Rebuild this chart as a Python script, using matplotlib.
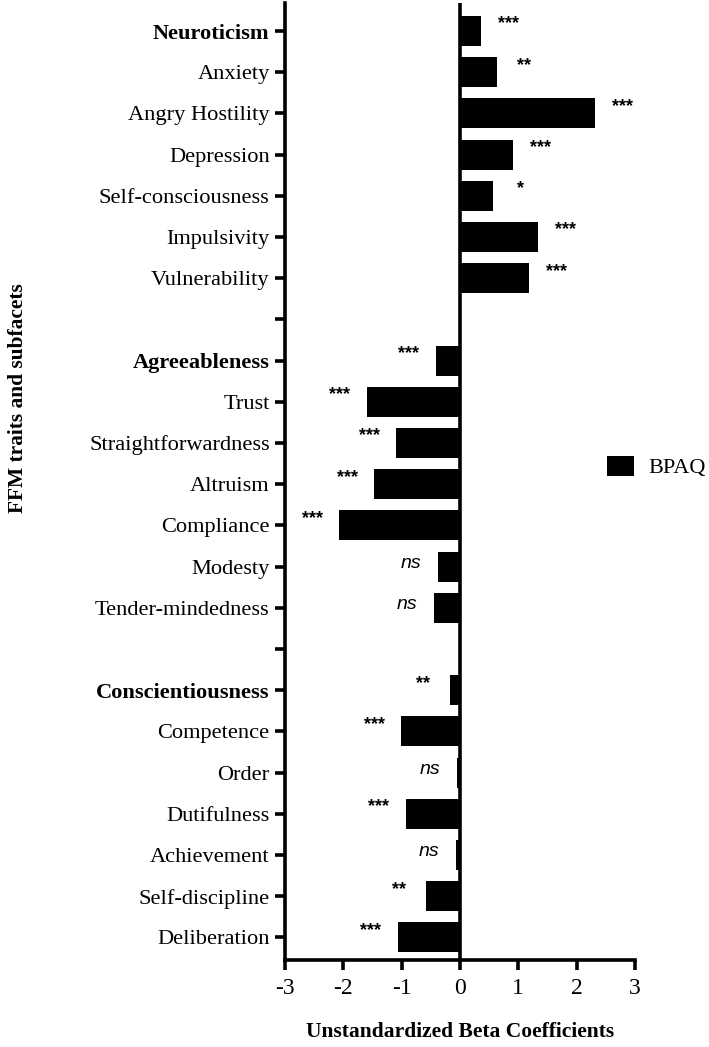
import matplotlib
matplotlib.use("Agg")
import matplotlib.pyplot as plt
import numpy as np

categories = ["Neuroticism", "Anxiety", "Angry Hostility", "Depression", "Self-consciousness",
              "Impulsivity", "Vulnerability", "",
              "Agreeableness", "Trust", "Straightforwardness", "Altruism", "Compliance",
              "Modesty", "Tender-mindedness", "",
              "Conscientiousness", "Competence", "Order", "Dutifulness", "Achievement",
              "Self-discipline", "Deliberation"]
values = [0.36, 0.64, 2.32, 0.91, 0.57, 1.34, 1.19, None,
          -0.42, -1.60, -1.09, -1.47, -2.07, -0.37, -0.45, None,
          -0.17, -1.01, -0.05, -0.93, -0.07, -0.59, -1.07]
signif = ["***", "**", "***", "***", "*", "***", "***", "",
          "***", "***", "***", "***", "***", "ns", "ns", "",
          "**", "***", "ns", "***", "ns", "**", "***"]
bold_labels = {"Neuroticism", "Agreeableness", "Conscientiousness"}
x_ticks = [-3, -2, -1, 0, 1, 2, 3]

serif = "Liberation Serif"
sans = "Liberation Sans"

fig = plt.figure(figsize=(7.09, 10.47), dpi=100)
ax = fig.add_axes([285/709, 87/1047, 350/709, 957/1047])

ypos = np.arange(len(categories))
bar_y = [y for y, v in zip(ypos, values) if v is not None]
bar_v = [v for v in values if v is not None]
bars = ax.barh(bar_y, bar_v, height=0.73, color="black", label="BPAQ")

ax.set_xlim(-3, 3)
ax.set_ylim(22.55, -0.68)
ax.set_xticks(x_ticks)
ax.set_xticklabels([str(t) for t in x_ticks], fontfamily=serif, fontsize=17)
ax.set_yticks(ypos)
ax.set_yticklabels(categories, fontfamily=serif, fontsize=16.1)
for lab in ax.get_yticklabels():
    if lab.get_text() in bold_labels:
        lab.set_fontweight("bold")

ax.axvline(0, color="black", lw=2.6)
for s in ["top", "right"]:
    ax.spines[s].set_visible(False)
for s in ["left", "bottom"]:
    ax.spines[s].set_linewidth(2.6)
ax.tick_params(axis="both", width=2.6, length=7, direction="out", colors="black")
ax.tick_params(axis="y", pad=4)
ax.tick_params(axis="x", pad=6)

# significance labels
for y, v, s in zip(ypos, values, signif):
    if v is None:
        continue
    off = 27 if v >= 0 else -27
    if s == "ns":
        ax.annotate(s, xy=(v, y), xytext=(off, 3), textcoords="offset pixels",
                    ha="center", va="center", fontfamily=sans, fontstyle="italic", fontsize=14)
    else:
        ax.annotate(s, xy=(v, y), xytext=(off, 7), textcoords="offset pixels",
                    ha="center", va="center", fontfamily=sans, fontweight="bold", fontsize=13)

fig.text(18/709, 1 - 398/1047, "FFM traits and subfacets", rotation=90, ha="center", va="center",
         fontfamily=serif, fontweight="bold", fontsize=15.4)
fig.text(460/709, 1 - 1032/1047, "Unstandardized Beta Coefficients", ha="center", va="center",
         fontfamily=serif, fontweight="bold", fontsize=15.5)

leg = fig.legend(handles=[bars], labels=["BPAQ"], loc="center left",
                 bbox_to_anchor=(607/709, 1 - 467/1047), frameon=False,
                 borderpad=0, borderaxespad=0,
                 prop={"family": serif, "size": 16}, handlelength=1.22, handleheight=1.04,
                 handletextpad=0.63)

fig.savefig("out.png", dpi=100)
